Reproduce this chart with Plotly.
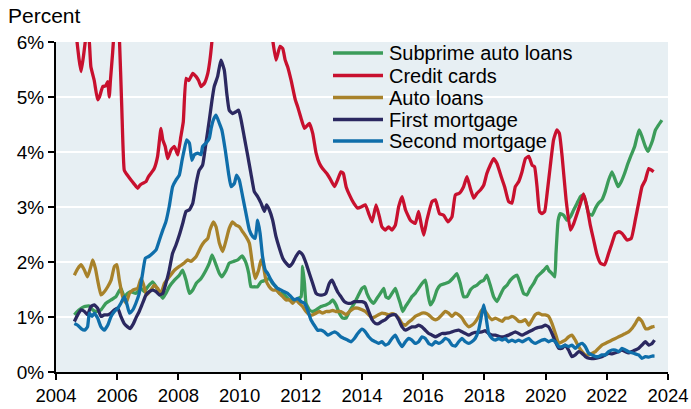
import plotly.graph_objects as go

# ---------------- data (percent) ----------------
cc_years = [2004.60, 2004.68, 2004.75, 2004.82, 2004.90, 2004.98, 2005.04, 2005.09, 2005.14, 2005.25,
            2005.36, 2005.42, 2005.53, 2005.62, 2005.69, 2005.74, 2005.78, 2005.85, 2005.91, 2005.98,
            2006.07, 2006.15, 2006.23, 2006.29, 2006.37, 2006.45, 2006.55, 2006.67, 2006.75, 2006.83,
            2006.94, 2007.02, 2007.10, 2007.21, 2007.32, 2007.43, 2007.49, 2007.57, 2007.65, 2007.76,
            2007.87, 2007.98, 2008.08, 2008.16, 2008.25, 2008.34, 2008.47, 2008.58, 2008.66, 2008.74,
            2008.85, 2008.96, 2009.03, 2009.10, 2009.30, 2009.70, 2010.10, 2010.50, 2010.90, 2011.08,
            2011.19, 2011.32, 2011.41, 2011.49, 2011.57, 2011.68, 2011.82, 2011.90, 2012.01, 2012.12,
            2012.28, 2012.39, 2012.50, 2012.61, 2012.71, 2012.85, 2012.95, 2013.10, 2013.20, 2013.31,
            2013.39, 2013.48, 2013.59, 2013.73, 2013.86, 2014.00, 2014.11, 2014.22, 2014.33, 2014.46,
            2014.57, 2014.65, 2014.76, 2014.87, 2014.98, 2015.09, 2015.20, 2015.31, 2015.42, 2015.58,
            2015.74, 2015.85, 2015.94, 2016.02, 2016.12, 2016.29, 2016.40, 2016.53, 2016.67, 2016.81,
            2016.94, 2017.05, 2017.18, 2017.32, 2017.43, 2017.54, 2017.65, 2017.76, 2017.87, 2017.98,
            2018.08, 2018.19, 2018.30, 2018.41, 2018.55, 2018.66, 2018.79, 2018.90, 2019.01, 2019.12,
            2019.23, 2019.34, 2019.45, 2019.56, 2019.64, 2019.72, 2019.80, 2019.88, 2019.97, 2020.05,
            2020.15, 2020.26, 2020.37, 2020.45, 2020.54, 2020.67, 2020.81, 2020.92, 2021.03, 2021.14,
            2021.24, 2021.35, 2021.46, 2021.57, 2021.68, 2021.79, 2021.93, 2022.06, 2022.17, 2022.28,
            2022.39, 2022.50, 2022.66, 2022.80, 2022.93, 2023.04, 2023.15, 2023.26, 2023.37, 2023.46,
            2023.53]
cc_vals = [6.60, 6.04, 5.70, 5.46, 5.75, 6.10, 6.20, 6.00, 5.55, 5.30,
           4.95, 5.00, 5.19, 5.20, 5.28, 5.00, 5.31, 5.80, 6.30, 6.80,
           6.10, 4.80, 3.67, 3.61, 3.55, 3.49, 3.42, 3.34, 3.40, 3.43,
           3.46, 3.55, 3.61, 3.70, 3.92, 4.43, 4.22, 4.10, 3.88, 4.04,
           4.10, 3.95, 4.28, 4.55, 5.34, 5.30, 5.43, 5.37, 5.30, 5.19,
           5.25, 5.43, 5.67, 6.04, 7.50, 9.00, 9.50, 8.50, 6.80, 6.04,
           5.67, 5.92, 5.88, 5.67, 5.55, 5.31, 4.95, 4.82, 4.61, 4.43,
           4.52, 4.34, 3.98, 3.79, 3.70, 3.61, 3.52, 3.37, 3.49, 3.64,
           3.61, 3.37, 3.22, 3.07, 2.98, 3.01, 3.04, 2.88, 2.73, 3.04,
           2.82, 2.64, 2.58, 2.64, 2.58, 2.67, 3.01, 3.19, 2.95, 2.76,
           2.70, 2.92, 2.67, 2.49, 2.76, 3.10, 3.13, 2.88, 2.85, 2.73,
           2.82, 3.22, 3.25, 3.37, 3.55, 3.34, 3.16, 3.25, 3.31, 3.40,
           3.61, 3.76, 3.88, 3.79, 3.55, 3.37, 3.10, 3.07, 3.37, 3.46,
           3.64, 3.88, 3.92, 3.76, 3.73, 3.37, 2.92, 2.88, 2.92, 3.25,
           3.73, 4.22, 4.40, 4.34, 3.92, 3.13, 2.58, 2.70, 2.88, 3.07,
           3.24, 3.01, 2.67, 2.40, 2.13, 1.98, 1.95, 2.16, 2.34, 2.52,
           2.55, 2.52, 2.40, 2.43, 2.76, 3.07, 3.37, 3.49, 3.70, 3.67,
           3.64]

sub_years = [2004.60, 2004.76, 2004.93, 2005.09, 2005.20, 2005.31, 2005.47, 2005.63, 2005.80, 2005.96,
             2006.12, 2006.23, 2006.34, 2006.45, 2006.61, 2006.78, 2006.89, 2007.00, 2007.16, 2007.27,
             2007.38, 2007.49, 2007.59, 2007.70, 2007.87, 2008.03, 2008.14, 2008.25, 2008.36, 2008.47,
             2008.58, 2008.74, 2008.90, 2009.01, 2009.10, 2009.21, 2009.34, 2009.42, 2009.56, 2009.66,
             2009.80, 2009.94, 2010.08, 2010.19, 2010.30, 2010.37, 2010.48, 2010.59, 2010.70, 2010.86,
             2010.97, 2011.08, 2011.19, 2011.30, 2011.41, 2011.52, 2011.63, 2011.73, 2011.84, 2011.93,
             2012.01, 2012.06, 2012.12, 2012.17, 2012.28, 2012.39, 2012.50, 2012.66, 2012.82, 2012.93,
             2013.04, 2013.15, 2013.26, 2013.37, 2013.48, 2013.59, 2013.75, 2013.86, 2014.00, 2014.09,
             2014.16, 2014.27, 2014.38, 2014.49, 2014.60, 2014.71, 2014.78, 2014.87, 2014.98, 2015.09,
             2015.18, 2015.25, 2015.33, 2015.42, 2015.53, 2015.63, 2015.74, 2015.85, 2015.96, 2016.07,
             2016.16, 2016.23, 2016.34, 2016.45, 2016.56, 2016.72, 2016.85, 2016.96, 2017.10, 2017.21,
             2017.32, 2017.43, 2017.54, 2017.65, 2017.76, 2017.87, 2017.98, 2018.08, 2018.19, 2018.30,
             2018.41, 2018.52, 2018.63, 2018.74, 2018.85, 2018.96, 2019.07, 2019.17, 2019.28, 2019.39,
             2019.50, 2019.61, 2019.72, 2019.83, 2019.94, 2020.05, 2020.10, 2020.21, 2020.30, 2020.34,
             2020.41, 2020.48, 2020.59, 2020.70, 2020.81, 2020.92, 2021.03, 2021.14, 2021.24, 2021.32,
             2021.41, 2021.52, 2021.63, 2021.73, 2021.84, 2021.95, 2022.06, 2022.17, 2022.28, 2022.37,
             2022.47, 2022.58, 2022.69, 2022.80, 2022.91, 2022.99, 2023.06, 2023.15, 2023.26, 2023.35,
             2023.42, 2023.50, 2023.59, 2023.69, 2023.80]
sub_vals = [1.04, 1.13, 1.19, 1.20, 1.13, 1.10, 1.13, 1.25, 1.31, 1.37,
            1.52, 1.37, 1.43, 1.46, 1.43, 1.52, 1.46, 1.55, 1.64, 1.55,
            1.43, 1.34, 1.43, 1.55, 1.67, 1.76, 1.85, 1.67, 1.43, 1.49,
            1.61, 1.70, 1.85, 1.98, 2.13, 1.98, 1.79, 1.73, 1.85, 1.98,
            2.01, 2.04, 2.11, 2.01, 1.79, 1.55, 1.55, 1.55, 1.64, 1.67,
            1.70, 1.61, 1.55, 1.43, 1.43, 1.37, 1.31, 1.31, 1.31, 1.34,
            1.37, 1.92, 1.61, 1.25, 1.13, 1.10, 1.13, 1.19, 1.22, 1.25,
            1.31, 1.22, 1.07, 0.98, 0.98, 1.10, 1.25, 1.37, 1.52, 1.55,
            1.43, 1.31, 1.25, 1.34, 1.43, 1.52, 1.37, 1.34, 1.43, 1.52,
            1.37, 1.25, 1.10, 1.19, 1.28, 1.37, 1.43, 1.52, 1.61, 1.67,
            1.40, 1.22, 1.31, 1.49, 1.58, 1.61, 1.64, 1.70, 1.79, 1.61,
            1.37, 1.37, 1.49, 1.55, 1.58, 1.64, 1.67, 1.76, 1.58, 1.37,
            1.28, 1.40, 1.52, 1.58, 1.67, 1.73, 1.76, 1.61, 1.43, 1.40,
            1.52, 1.61, 1.73, 1.79, 1.85, 1.92, 1.85, 1.79, 1.73, 2.16,
            2.76, 2.88, 2.85, 2.76, 2.82, 2.95, 3.07, 3.19, 3.22, 3.07,
            2.88, 2.85, 2.98, 3.07, 3.13, 3.28, 3.49, 3.64, 3.49, 3.37,
            3.46, 3.61, 3.79, 3.95, 4.10, 4.28, 4.40, 4.28, 4.10, 4.01,
            4.10, 4.22, 4.40, 4.49, 4.58]

auto_years = [2004.60, 2004.71, 2004.82, 2004.93, 2005.03, 2005.14, 2005.20, 2005.29, 2005.36, 2005.47,
              2005.58, 2005.69, 2005.80, 2005.91, 2005.99, 2006.07, 2006.18, 2006.29, 2006.40, 2006.51,
              2006.67, 2006.78, 2006.85, 2006.96, 2007.10, 2007.21, 2007.32, 2007.43, 2007.54, 2007.70,
              2007.87, 2008.03, 2008.19, 2008.30, 2008.41, 2008.58, 2008.74, 2008.85, 2008.96, 2009.03,
              2009.14, 2009.23, 2009.34, 2009.45, 2009.56, 2009.66, 2009.77, 2009.88, 2009.99, 2010.10,
              2010.21, 2010.32, 2010.43, 2010.51, 2010.62, 2010.70, 2010.78, 2010.86, 2010.97, 2011.08,
              2011.19, 2011.30, 2011.41, 2011.52, 2011.63, 2011.73, 2011.84, 2011.95, 2012.06, 2012.17,
              2012.28, 2012.39, 2012.50, 2012.61, 2012.71, 2012.82, 2012.93, 2013.04, 2013.15, 2013.31,
              2013.48, 2013.59, 2013.75, 2013.86, 2014.00, 2014.11, 2014.22, 2014.33, 2014.44, 2014.54,
              2014.65, 2014.76, 2014.87, 2014.98, 2015.09, 2015.20, 2015.31, 2015.42, 2015.53, 2015.63,
              2015.74, 2015.85, 2015.96, 2016.07, 2016.18, 2016.29, 2016.40, 2016.51, 2016.61, 2016.72,
              2016.83, 2016.94, 2017.05, 2017.16, 2017.27, 2017.38, 2017.49, 2017.59, 2017.70, 2017.81,
              2017.92, 2018.03, 2018.14, 2018.25, 2018.36, 2018.47, 2018.58, 2018.68, 2018.79, 2018.90,
              2019.01, 2019.12, 2019.23, 2019.34, 2019.45, 2019.56, 2019.66, 2019.77, 2019.88, 2019.99,
              2020.10, 2020.21, 2020.32, 2020.43, 2020.54, 2020.64, 2020.75, 2020.86, 2020.97, 2021.08,
              2021.19, 2021.30, 2021.41, 2021.52, 2021.63, 2021.73, 2021.84, 2021.95, 2022.06, 2022.17,
              2022.28, 2022.39, 2022.50, 2022.61, 2022.71, 2022.82, 2022.93, 2023.04, 2023.15, 2023.26,
              2023.37, 2023.48, 2023.56]
auto_vals = [1.76, 1.88, 1.95, 1.85, 1.73, 1.92, 2.04, 1.88, 1.67, 1.40,
             1.46, 1.55, 1.67, 1.92, 1.95, 1.67, 1.37, 1.25, 1.43, 1.49,
             1.52, 1.70, 1.61, 1.40, 1.49, 1.58, 1.52, 1.43, 1.61, 1.73,
             1.85, 1.92, 1.98, 2.04, 2.01, 2.10, 2.28, 2.37, 2.43, 2.58,
             2.73, 2.64, 2.34, 2.19, 2.40, 2.61, 2.73, 2.67, 2.64, 2.55,
             2.46, 2.34, 1.92, 1.70, 1.85, 2.04, 1.92, 1.67, 1.55, 1.49,
             1.49, 1.43, 1.37, 1.31, 1.31, 1.25, 1.31, 1.25, 1.19, 1.10,
             1.04, 1.04, 1.07, 1.10, 1.07, 1.10, 1.10, 1.12, 1.10, 1.10,
             1.04, 1.10, 1.16, 1.16, 1.13, 1.10, 1.04, 0.98, 1.01, 1.04,
             1.07, 1.06, 1.04, 1.06, 1.04, 0.98, 0.88, 0.85, 0.91, 0.95,
             1.01, 1.04, 1.07, 1.07, 1.04, 0.98, 0.95, 0.98, 1.04, 1.10,
             1.07, 1.01, 1.07, 1.04, 0.98, 0.88, 0.82, 0.85, 0.91, 1.01,
             1.13, 1.10, 1.01, 0.95, 0.98, 0.95, 0.92, 0.98, 0.98, 1.01,
             0.98, 0.92, 0.92, 0.95, 0.85, 0.95, 1.04, 1.07, 1.04, 1.04,
             1.01, 0.88, 0.70, 0.52, 0.55, 0.58, 0.64, 0.67, 0.58, 0.46,
             0.37, 0.31, 0.31, 0.34, 0.37, 0.43, 0.49, 0.52, 0.55, 0.58,
             0.61, 0.64, 0.67, 0.70, 0.73, 0.79, 0.88, 0.98, 0.92, 0.79,
             0.79, 0.82, 0.83]

fm_years = [2004.60, 2004.71, 2004.82, 2004.93, 2005.03, 2005.14, 2005.25, 2005.36, 2005.47, 2005.58,
            2005.69, 2005.80, 2005.91, 2006.02, 2006.12, 2006.23, 2006.34, 2006.42, 2006.53, 2006.61,
            2006.72, 2006.83, 2006.94, 2007.05, 2007.16, 2007.27, 2007.38, 2007.49, 2007.59, 2007.70,
            2007.81, 2007.92, 2008.03, 2008.14, 2008.25, 2008.36, 2008.47, 2008.58, 2008.68, 2008.79,
            2008.90, 2009.01, 2009.10, 2009.17, 2009.28, 2009.39, 2009.50, 2009.58, 2009.66, 2009.77,
            2009.88, 2009.97, 2010.05, 2010.15, 2010.26, 2010.37, 2010.48, 2010.59, 2010.70, 2010.81,
            2010.88, 2010.97, 2011.08, 2011.19, 2011.30, 2011.41, 2011.52, 2011.63, 2011.73, 2011.84,
            2011.95, 2012.06, 2012.17, 2012.28, 2012.39, 2012.50, 2012.61, 2012.71, 2012.82, 2012.93,
            2013.02, 2013.10, 2013.20, 2013.31, 2013.42, 2013.53, 2013.64, 2013.75, 2013.86, 2014.00,
            2014.11, 2014.22, 2014.33, 2014.44, 2014.54, 2014.65, 2014.76, 2014.87, 2014.98, 2015.09,
            2015.20, 2015.31, 2015.42, 2015.53, 2015.63, 2015.74, 2015.85, 2015.96, 2016.07, 2016.18,
            2016.29, 2016.40, 2016.51, 2016.61, 2016.72, 2016.83, 2016.94, 2017.05, 2017.16, 2017.27,
            2017.38, 2017.49, 2017.59, 2017.70, 2017.81, 2017.92, 2018.03, 2018.14, 2018.25, 2018.36,
            2018.47, 2018.58, 2018.68, 2018.79, 2018.90, 2019.01, 2019.12, 2019.23, 2019.34, 2019.45,
            2019.56, 2019.66, 2019.77, 2019.88, 2019.99, 2020.10, 2020.21, 2020.32, 2020.43, 2020.54,
            2020.64, 2020.75, 2020.86, 2020.97, 2021.08, 2021.19, 2021.30, 2021.41, 2021.63, 2021.84,
            2021.95, 2022.06, 2022.17, 2022.28, 2022.39, 2022.50, 2022.61, 2022.71, 2022.82, 2022.93,
            2023.04, 2023.15, 2023.26, 2023.37, 2023.48, 2023.56]
fm_vals = [0.92, 1.04, 1.13, 1.10, 1.04, 1.19, 1.22, 1.16, 1.01, 1.04,
           1.04, 1.07, 1.13, 1.16, 1.01, 0.88, 0.82, 0.79, 0.88, 0.98,
           1.10, 1.25, 1.40, 1.46, 1.49, 1.46, 1.40, 1.43, 1.61, 1.85,
           2.16, 2.31, 2.49, 2.70, 2.92, 2.95, 3.07, 3.43, 3.67, 3.76,
           4.16, 4.58, 4.95, 5.19, 5.37, 5.67, 5.49, 5.07, 4.76, 4.70,
           4.73, 4.76, 4.58, 4.28, 3.95, 3.61, 3.28, 3.19, 3.07, 2.92,
           3.04, 2.95, 2.76, 2.46, 2.25, 2.07, 1.98, 1.92, 1.98, 2.10,
           2.19, 2.13, 1.98, 1.79, 1.61, 1.43, 1.40, 1.40, 1.43, 1.61,
           1.67, 1.58, 1.46, 1.37, 1.28, 1.25, 1.25, 1.28, 1.28, 1.28,
           1.25, 1.10, 0.95, 0.88, 0.88, 0.92, 0.95, 1.01, 1.04, 1.04,
           0.95, 0.82, 0.76, 0.79, 0.82, 0.82, 0.85, 0.82, 0.76, 0.70,
           0.67, 0.64, 0.67, 0.70, 0.70, 0.71, 0.73, 0.75, 0.76, 0.73,
           0.70, 0.67, 0.70, 0.72, 0.72, 0.73, 0.75, 0.70, 0.67, 0.67,
           0.65, 0.64, 0.65, 0.67, 0.70, 0.73, 0.70, 0.67, 0.70, 0.73,
           0.76, 0.79, 0.81, 0.82, 0.85, 0.82, 0.70, 0.55, 0.43, 0.43,
           0.49, 0.40, 0.28, 0.31, 0.37, 0.34, 0.28, 0.25, 0.25, 0.28,
           0.31, 0.34, 0.33, 0.35, 0.37, 0.40, 0.37, 0.35, 0.37, 0.40,
           0.43, 0.49, 0.55, 0.49, 0.52, 0.58]

sm_years = [2004.60, 2004.71, 2004.82, 2004.93, 2005.03, 2005.09, 2005.18, 2005.25, 2005.36, 2005.47,
            2005.58, 2005.69, 2005.80, 2005.91, 2006.02, 2006.12, 2006.23, 2006.31, 2006.40, 2006.51,
            2006.61, 2006.72, 2006.83, 2006.92, 2007.03, 2007.16, 2007.27, 2007.38, 2007.49, 2007.59,
            2007.70, 2007.81, 2007.92, 2008.03, 2008.12, 2008.19, 2008.27, 2008.36, 2008.44, 2008.52,
            2008.63, 2008.74, 2008.79, 2008.90, 2009.01, 2009.07, 2009.14, 2009.23, 2009.34, 2009.42,
            2009.53, 2009.64, 2009.72, 2009.83, 2009.90, 2009.99, 2010.10, 2010.21, 2010.32, 2010.43,
            2010.51, 2010.59, 2010.67, 2010.75, 2010.84, 2010.92, 2011.03, 2011.14, 2011.24, 2011.35,
            2011.46, 2011.57, 2011.68, 2011.79, 2011.90, 2012.01, 2012.12, 2012.22, 2012.33, 2012.44,
            2012.55, 2012.66, 2012.77, 2012.88, 2012.99, 2013.10, 2013.20, 2013.31, 2013.42, 2013.53,
            2013.64, 2013.75, 2013.86, 2014.00, 2014.11, 2014.22, 2014.33, 2014.44, 2014.54, 2014.65,
            2014.76, 2014.87, 2014.98, 2015.09, 2015.20, 2015.31, 2015.42, 2015.53, 2015.63, 2015.74,
            2015.85, 2015.96, 2016.07, 2016.18, 2016.29, 2016.40, 2016.51, 2016.61, 2016.72, 2016.83,
            2016.94, 2017.05, 2017.16, 2017.27, 2017.38, 2017.49, 2017.59, 2017.70, 2017.81, 2017.92,
            2017.98, 2018.05, 2018.14, 2018.25, 2018.36, 2018.47, 2018.58, 2018.68, 2018.79, 2018.90,
            2019.01, 2019.12, 2019.23, 2019.34, 2019.45, 2019.56, 2019.66, 2019.77, 2019.88, 2019.99,
            2020.10, 2020.21, 2020.32, 2020.43, 2020.54, 2020.64, 2020.75, 2020.86, 2020.97, 2021.08,
            2021.19, 2021.30, 2021.41, 2021.52, 2021.63, 2021.73, 2021.84, 2021.95, 2022.06, 2022.17,
            2022.28, 2022.39, 2022.50, 2022.61, 2022.71, 2022.82, 2022.93, 2023.04, 2023.15, 2023.26,
            2023.37, 2023.48, 2023.56]
sm_vals = [0.88, 0.85, 0.79, 0.76, 0.82, 1.07, 1.01, 1.07, 0.98, 0.82,
           0.76, 0.85, 1.01, 1.10, 1.16, 1.25, 1.37, 1.25, 1.07, 1.13,
           1.25, 1.43, 1.79, 2.07, 2.10, 2.16, 2.22, 2.40, 2.58, 2.73,
           3.01, 3.37, 3.49, 3.58, 3.85, 4.04, 4.22, 4.16, 3.85, 3.95,
           3.98, 3.95, 4.10, 4.16, 4.25, 4.43, 4.58, 4.67, 4.52, 4.40,
           4.04, 3.61, 3.37, 3.43, 3.58, 3.49, 3.19, 2.88, 2.58, 2.46,
           2.43, 2.76, 2.52, 2.10, 1.85, 1.79, 1.67, 1.58, 1.52, 1.49,
           1.46, 1.43, 1.37, 1.31, 1.34, 1.28, 1.25, 1.13, 0.95, 0.85,
           0.76, 0.76, 0.73, 0.67, 0.70, 0.73, 0.70, 0.64, 0.61, 0.58,
           0.55, 0.61, 0.70, 0.78, 0.73, 0.64, 0.58, 0.55, 0.52, 0.55,
           0.49, 0.52, 0.61, 0.67, 0.55, 0.46, 0.55, 0.61, 0.58, 0.52,
           0.55, 0.64, 0.61, 0.52, 0.49, 0.55, 0.52, 0.55, 0.61, 0.58,
           0.49, 0.47, 0.55, 0.61, 0.55, 0.52, 0.55, 0.61, 0.76, 1.07,
           1.22, 1.01, 0.70, 0.61, 0.58, 0.61, 0.58, 0.61, 0.55, 0.58,
           0.55, 0.58, 0.55, 0.58, 0.61, 0.55, 0.52, 0.55, 0.58, 0.59,
           0.55, 0.58, 0.55, 0.46, 0.46, 0.49, 0.46, 0.49, 0.43, 0.49,
           0.52, 0.46, 0.34, 0.31, 0.28, 0.28, 0.31, 0.31, 0.37, 0.40,
           0.40, 0.37, 0.43, 0.40, 0.37, 0.35, 0.33, 0.31, 0.25, 0.28,
           0.27, 0.29, 0.29]

series_names = ["Subprime auto loans", "Credit cards", "Auto loans", "First mortgage", "Second mortgage"]
series_colors = ["#3C9C5A", "#C8102E", "#A8822A", "#2B2860", "#0F6EAA"]

y_tick_vals = [0, 1, 2, 3, 4, 5, 6]
y_tick_text = ["0%", "1%", "2%", "3%", "4%", "5%", "6%"]
x_tick_vals = [2004, 2006, 2008, 2010, 2012, 2014, 2016, 2018, 2020, 2022, 2024]
x_tick_text = [str(v) for v in x_tick_vals]

FONT = "Liberation Sans, Arial, sans-serif"

# Page body margin is removed (see post_script), so figure pixels == window pixels.
FIG_W, FIG_H = 691, 409
L, R, T, B = 56, 668, 42, 372
PW, PH = R - L, B - T

fig = go.Figure()
all_x = [sub_years, cc_years, auto_years, fm_years, sm_years]
all_y = [sub_vals, cc_vals, auto_vals, fm_vals, sm_vals]
for i in range(5):
    fig.add_trace(go.Scatter(
        x=all_x[i], y=all_y[i], mode="lines", name=series_names[i], showlegend=False,
        line=dict(color=series_colors[i], width=3.3, shape="spline", smoothing=0.4),
    ))

# legend rows (line sample + label)
legend_rows_y = [53, 75.5, 97.5, 119.5, 141]
shapes = []
annotations = []
for i, name in enumerate(series_names):
    yp = (B - legend_rows_y[i]) / PH
    shapes.append(dict(type="line", xref="paper", yref="paper",
                       x0=(333 - L) / PW, x1=(383 - L) / PW, y0=yp, y1=yp,
                       line=dict(color=series_colors[i], width=3.5)))
    annotations.append(dict(text=name, xref="paper", yref="paper",
                            x=(387 - L) / PW, y=yp, xanchor="left", yanchor="middle",
                            showarrow=False, font=dict(family=FONT, size=20, color="black")))

annotations.append(dict(
    text="Percent", xref="paper", yref="paper",
    x=(7 - L) / PW, y=(B - 15) / PH, xanchor="left", yanchor="middle",
    showarrow=False, font=dict(family=FONT, size=21, color="black"), borderpad=0,
))

fig.update_layout(
    width=FIG_W, height=FIG_H,
    margin=dict(l=L, r=FIG_W - R, t=T, b=FIG_H - B, autoexpand=False),
    paper_bgcolor="white",
    plot_bgcolor="#E7EFF3",
    font=dict(family=FONT, size=19, color="black"),
    showlegend=False,
    shapes=shapes,
    annotations=annotations,
)
fig.update_xaxes(
    range=[2004, 2024], tickvals=x_tick_vals, ticktext=x_tick_text, automargin=False,
    showgrid=False, zeroline=False, showline=True, linecolor="black", linewidth=2,
    ticks="outside", ticklen=6, tickwidth=2, tickcolor="black",
    tickfont=dict(family=FONT, size=18.5, color="black"),
)
fig.update_yaxes(
    range=[0, 6], tickvals=y_tick_vals, ticktext=y_tick_text, automargin=False,
    showgrid=True, gridcolor="white", gridwidth=2, zeroline=False,
    showline=True, linecolor="black", linewidth=2,
    ticks="outside", ticklen=6, tickwidth=2, tickcolor="black",
    tickfont=dict(family=FONT, size=19, color="black"),
)

fig.write_html(
    "out.html",
    config={"displayModeBar": False},
    post_script="document.body.style.margin='0';document.body.style.overflow='hidden';",
)
